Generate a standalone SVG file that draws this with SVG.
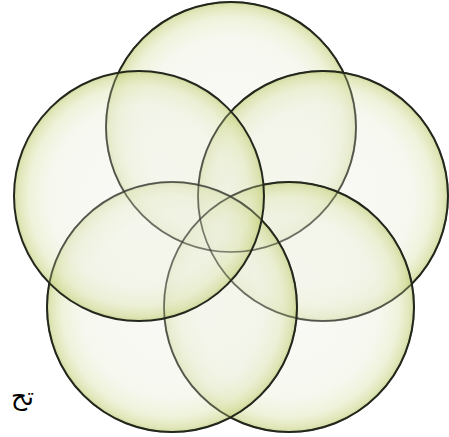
<svg xmlns="http://www.w3.org/2000/svg" width="449" height="437" viewBox="0 0 449 437">
  <defs>
    <radialGradient id="bub" cx="50%" cy="50%" r="50%">
      <stop offset="0%" stop-color="#f4f5ee" stop-opacity="0.5"/>
      <stop offset="72%" stop-color="#eef0e0" stop-opacity="0.5"/>
      <stop offset="88%" stop-color="#e2e8bc" stop-opacity="0.55"/>
      <stop offset="97%" stop-color="#cfd890" stop-opacity="0.65"/>
      <stop offset="100%" stop-color="#bcc878" stop-opacity="0.7"/>
    </radialGradient>
  </defs>
  <style>
    .c { fill: url(#bub); stroke: #23281c; stroke-width: 2; }
    .o { fill: none; stroke: #23281c; stroke-width: 1.6; stroke-opacity: 0.55; }
    .t { font-family: "DejaVu Sans", "Noto Sans", sans-serif; font-size: 25px; fill: #000; }
  </style>
  <rect width="449" height="437" fill="#ffffff"/>
  <g id="nodes">
    <g id="n1"><circle class="c" cx="231" cy="127" r="125"/></g>
    <g id="n2"><circle class="c" cx="323" cy="196" r="125"/></g>
    <g id="n3"><circle class="c" cx="289" cy="307" r="125"/></g>
    <g id="n4"><circle class="c" cx="172" cy="307" r="125"/></g>
    <g id="n5"><circle class="c" cx="139" cy="196" r="125"/></g>
  </g>
  <g id="outlines">
    <circle class="o" cx="231" cy="127" r="125"/>
    <circle class="o" cx="323" cy="196" r="125"/>
    <circle class="o" cx="289" cy="307" r="125"/>
    <circle class="o" cx="172" cy="307" r="125"/>
  </g>
  <g id="connectors"></g>
  <g id="label"><text class="t" x="34" y="405" text-anchor="end">تح</text></g>
</svg>
